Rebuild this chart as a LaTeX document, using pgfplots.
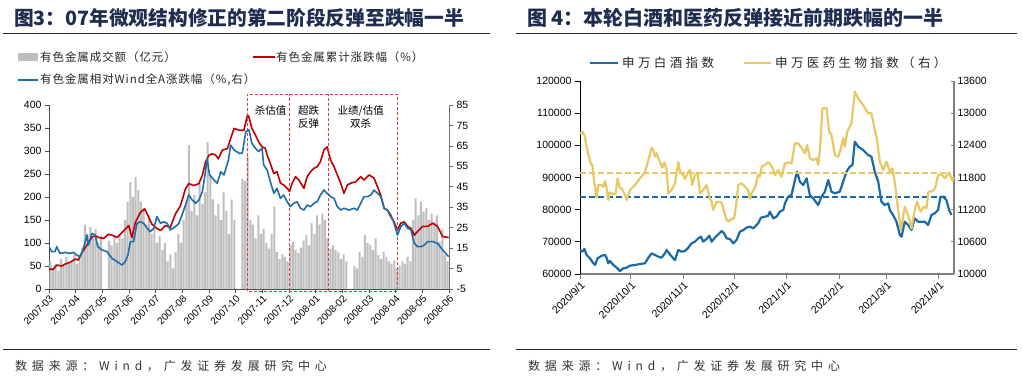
\documentclass[border=0pt]{standalone}
\usepackage{fontspec}
\setmainfont{Liberation Sans}
\newfontfamily\cjk{Noto Sans CJK SC}
\newfontfamily\cjkl[LetterSpace=8]{Noto Sans CJK SC}
\newfontfamily\cjkw[LetterSpace=27]{Noto Sans CJK SC}
\newfontfamily\cjks[LetterSpace=40]{Noto Sans CJK SC}
\usepackage{pgfplots}
\pgfplotsset{compat=1.18}
\usepackage{pgfplotstable}
\definecolor{titleblue}{RGB}{31,45,80}
\definecolor{redl}{RGB}{192,0,0}
\definecolor{bluel}{RGB}{31,110,170}
\definecolor{barg}{RGB}{190,190,190}
\definecolor{yel}{RGB}{232,200,100}
\definecolor{blue2}{RGB}{27,106,165}
\definecolor{boxred}{RGB}{225,60,60}

\pgfplotstableread{
x y
0.05 60
0.15 45
0.25 55
0.35 40
0.45 65
0.55 50
0.65 70
0.75 55
0.85 60
0.95 75
1.05 55
1.15 70
1.25 90
1.35 140
1.45 120
1.55 135
1.65 110
1.75 130
1.85 100
1.95 115
2.05 0
2.15 0
2.25 105
2.35 95
2.45 115
2.55 100
2.65 120
2.75 110
2.85 150
2.95 190
3.05 233
3.15 200
3.25 243
3.35 215
3.45 190
3.55 175
3.65 140
3.75 160
3.85 120
3.95 130
4.05 100
4.15 115
4.25 85
4.35 100
4.45 60
4.55 75
4.65 45
4.75 80
4.85 120
4.95 100
5.05 150
5.15 190
5.25 313
5.35 170
5.45 205
5.55 160
5.65 230
5.75 185
5.85 210
5.95 320
6.05 250
6.15 195
6.25 160
6.35 185
6.45 150
6.55 210
6.65 170
6.75 120
6.85 195
6.95 150
7.05 0
7.15 0
7.25 240
7.35 235
7.45 290
7.55 150
7.65 140
7.75 110
7.85 160
7.95 120
8.05 130
8.15 100
8.25 88
8.35 120
8.45 179
8.55 80
8.65 65
8.75 75
8.85 70
8.95 60
9.05 95
9.15 103
9.25 85
9.35 78
9.45 90
9.55 105
9.65 117
9.75 95
9.85 143
9.95 120
10.05 160
10.15 140
10.25 164
10.35 150
10.45 110
10.55 88
10.65 95
10.75 85
10.85 80
10.95 65
11.05 75
11.15 60
11.25 0
11.35 0
11.45 50
11.55 45
11.65 80
11.75 70
11.85 117
11.95 100
12.05 96
12.15 85
12.25 110
12.35 74
12.45 65
12.55 81
12.65 70
12.75 60
12.85 55
12.95 62
13.05 45
13.15 50
13.25 60
13.35 55
13.45 70
13.55 60
13.65 150
13.75 197
13.85 160
13.95 190
14.05 168
14.15 175
14.25 150
14.35 164
14.45 146
14.55 160
14.65 103
14.75 130
14.85 74
14.95 60
}\bars

\pgfplotstableread{
x y
0 43
0.16 43
0.29 52
0.48 50
0.60 54
0.79 58
0.98 65
1.10 63
1.23 79
1.36 90
1.48 101
1.61 112
1.73 116
1.86 112
2.05 110
2.23 119
2.42 116
2.55 112
2.67 119
2.86 130
2.99 138
3.11 112
3.24 145
3.43 167
3.59 174
3.74 156
3.86 141
3.99 134
4.18 127
4.37 138
4.55 134
4.74 163
4.93 181
5.12 218
5.24 229
5.43 225
5.62 229
5.75 247
5.87 276
6.00 291
6.12 294
6.25 291
6.35 283
6.50 302
6.69 305
6.81 327
6.94 349
7.13 345
7.31 345
7.44 378
7.49 375
7.61 349
7.74 335
7.86 320
7.99 309
8.11 306
8.18 291
8.30 273
8.43 251
8.55 255
8.68 230
8.80 226
8.93 219
9.02 212
9.12 230
9.24 244
9.37 237
9.56 219
9.68 244
9.81 255
9.93 262
10.06 266
10.18 277
10.31 302
10.43 309
10.56 280
10.69 266
10.81 248
10.94 230
11.06 208
11.19 226
11.31 230
11.50 233
11.69 244
11.81 237
12.00 248
12.19 241
12.32 222
12.44 204
12.57 175
12.69 172
12.82 157
12.94 146
13.07 128
13.19 143
13.32 146
13.45 136
13.57 132
13.70 117
13.82 125
14.01 136
14.20 136
14.39 143
14.57 136
14.76 114
14.99 112
}\redt

\pgfplotstableread{
x y
0 15.7
0.10 13.3
0.23 13.3
0.29 15.7
0.41 12.4
0.60 12.9
0.79 12.4
0.92 12.9
1.04 11.6
1.17 10.8
1.25 13.3
1.36 18.2
1.42 21.4
1.48 16.5
1.61 22.2
1.73 21.4
1.83 15.7
1.98 14.1
2.17 13.3
2.36 10.0
2.55 8.4
2.74 6.7
2.86 8.4
2.96 11.6
3.05 18.2
3.17 18.2
3.30 27.1
3.43 27.9
3.55 27.1
3.68 24.7
3.80 23.0
3.93 24.7
4.05 30.4
4.18 27.1
4.30 27.9
4.43 27.1
4.55 23.9
4.74 25.5
4.87 27.1
4.99 31.2
5.12 36.1
5.24 41.0
5.37 38.5
5.50 36.9
5.62 38.5
5.75 42.6
5.85 50.8
5.93 58.9
6.02 50.8
6.19 48.3
6.31 46.7
6.44 52.4
6.56 50.8
6.73 58.1
6.81 65.4
6.94 63.0
7.13 61.4
7.25 61.4
7.38 72.0
7.50 72.8
7.61 66.2
7.74 63.8
7.86 62.2
7.99 63.8
8.05 55.7
8.18 53.2
8.30 47.5
8.43 41.8
8.55 44.2
8.68 39.3
8.80 41.0
8.93 37.7
9.05 35.3
9.18 36.9
9.30 37.7
9.43 34.5
9.56 33.6
9.68 36.1
9.81 35.3
9.93 36.9
10.06 37.7
10.18 41.0
10.31 43.4
10.43 41.8
10.56 40.2
10.69 39.3
10.81 35.3
10.94 33.6
11.06 34.5
11.25 33.6
11.44 34.5
11.56 33.6
11.69 36.9
11.81 40.2
11.94 40.2
12.07 41.0
12.19 43.4
12.32 41.8
12.44 40.2
12.57 34.5
12.69 33.6
12.82 31.2
12.94 27.1
13.07 21.4
13.19 25.5
13.32 27.1
13.45 24.7
13.57 23.9
13.70 17.3
13.82 15.7
13.95 15.7
14.07 16.5
14.20 18.2
14.39 18.2
14.57 17.3
14.76 14.1
14.99 10.8
}\bluet

\pgfplotstableread{
x y
0 67460
1.4 66940
2.6 67770
3.9 65905
5.9 64870
7.9 63315
8.9 62800
10.4 64870
12.8 65700
14.8 65905
15.7 65075
16.7 63315
17.7 64040
19.7 62800
21.7 61970
23.6 60930
25.6 61760
27.6 61970
29.5 62590
32.5 62800
35.4 63110
38.4 63315
40.4 65075
42.3 66420
44.3 65905
46.3 65390
48.2 65075
50.2 66420
51.2 67460
53.1 66110
55.1 64870
56.1 64350
58.1 67460
60.0 66940
62.0 67150
64.0 68185
65.9 69530
67.9 70050
69.9 71085
71.5 71600
72.8 70050
74.8 70880
76.4 71915
77.8 70050
79.7 71290
81.7 72330
83.7 73365
85.2 72640
86.6 71085
88.6 70880
90.6 69530
92.5 70570
94.5 73160
96.5 73675
98.4 74400
100.4 74710
102.4 74195
104.3 75230
105.3 75750
106.9 77510
109.3 77820
111.2 78130
112.2 79370
114.2 77300
116.1 77820
118.1 79370
120.1 79890
121.1 81960
123.0 84035
125.0 84550
127.0 89215
128.3 91805
129.9 88700
131.9 87660
133.9 89735
135.8 84550
137.8 83515
140.7 81445
142.7 84035
144.7 85590
146.7 89215
148.6 85590
150.6 85070
153.5 85590
155.5 88700
157.5 91805
159.4 93360
161.0 93880
162.4 101130
164.4 99575
167.3 98540
170.3 96985
172.2 96470
174.2 91805
176.2 88700
178.1 82480
180.1 81445
182.1 81960
183.1 79890
185.0 78340
187.0 76265
189.0 72120
190.0 71600
191.9 76265
193.9 75230
195.9 73675
197.8 77300
199.8 76265
201.8 76265
203.7 76265
205.7 75230
207.7 78340
209.6 78855
211.6 79890
213.0 84035
214.6 84035
216.5 83000
218.1 79890
219.5 78340
}\baijiu

\pgfplotstableread{
x y
0 12624
1.4 12655
2.6 12593
3.9 12375
5.3 12188
6.5 12045
7.3 12033
7.9 11846
8.9 11598
9.8 11424
10.8 11660
12.4 11660
13.8 11629
14.8 11735
15.7 11598
16.7 11380
17.7 11523
19.7 11486
21.1 11505
22.2 11784
23.6 11598
24.6 11598
26.6 11473
27.6 11380
29.5 11567
32.5 11660
35.4 11784
38.4 11896
40.4 12126
42.3 12356
43.3 12313
44.3 12188
45.3 12251
47.2 12095
48.6 11983
49.8 12083
51.2 11940
52.2 11505
54.1 11567
56.1 11691
58.1 12083
59.1 11909
61.0 11846
62.0 11772
64.0 11909
65.0 11940
66.3 11660
67.9 11846
69.5 11890
70.9 11505
72.8 11567
74.8 11660
76.8 11399
77.8 11349
78.7 11194
80.7 11349
83.7 11330
85.2 11163
86.6 11007
87.6 10976
89.6 11026
91.1 11038
92.5 11349
93.5 11660
95.5 11691
97.4 11629
99.4 11567
100.4 11399
101.4 11505
103.3 11598
105.3 11846
106.3 11815
107.3 12002
109.3 12033
111.2 12083
112.2 12064
113.8 11971
115.2 11846
117.1 11940
119.1 11815
121.1 12064
123.0 12083
125.0 12064
127.0 12437
128.9 12437
130.9 12356
132.9 12251
134.3 12406
135.8 12157
137.8 12126
139.8 12157
140.7 12033
141.7 12282
143.3 13090
145.7 13090
147.2 12655
148.6 12593
150.6 12219
152.6 12188
153.9 12313
155.5 12530
156.5 12375
157.9 12655
160.4 12810
162.4 13401
164.4 13276
167.3 13152
170.3 12997
172.2 12997
174.2 12686
175.2 12561
177.2 12095
179.1 11940
181.1 12095
183.1 11909
184.6 11971
186.0 11722
188.0 11194
189.6 10821
191.9 11256
193.9 11100
195.9 10852
197.8 11194
199.2 11349
201.2 11163
203.1 11256
204.7 11225
205.9 11536
207.9 11536
209.8 11598
211.6 11846
213.6 11859
215.6 11784
218.1 11896
220.1 11735
220.9 11815
}\yiyao

\begin{document}
\begin{tikzpicture}[x=1pt,y=1pt]
\useasboundingbox (0,0) rectangle (1023,379);

% ---------------- Left panel ----------------
\node[anchor=west, inner sep=0pt, text=titleblue, font=\cjk\bfseries\fontsize{19.7}{20}\selectfont] at (14,361) {图3：07年微观结构修正的第二阶段反弹至跌幅一半};
\draw[line width=1pt, black!85] (3,345) -- (490,345);

\fill[barg] (18,318) rectangle (38,326);
\node[anchor=west, inner sep=0pt, font=\cjkl\fontsize{11.5}{12}\selectfont, text=black!85] at (40,322) {有色金属成交额（亿元）};
\draw[redl, line width=1.6pt] (253,322) -- (275,322);
\node[anchor=west, inner sep=0pt, font=\cjkl\fontsize{11.5}{12}\selectfont, text=black!85] at (276,322) {有色金属累计涨跌幅（\%）};
\draw[bluel, line width=1.6pt] (18,299) -- (38,299);
\node[anchor=west, inner sep=0pt, font=\cjkl\fontsize{11.5}{12}\selectfont, text=black!85] at (40,299) {有色金属相对Wind全A涨跌幅（\%,右）};

\begin{axis}[at={(49pt,90pt)}, anchor=south west, scale only axis,
  width=400pt, height=184pt, xmin=0, xmax=15, ymin=0, ymax=400,
  axis y line*=left, axis x line*=bottom, clip=false,
  ytick={0,50,...,400},
  xtick={0,...,15},
  xticklabels={2007-03,2007-04,2007-05,2007-06,2007-07,2007-08,2007-09,2007-10,2007-11,2007-12,2008-01,2008-02,2008-03,2008-04,2008-05,2008-06},
  xticklabel style={rotate=45, anchor=north east, font=\fontsize{10}{10}\selectfont, inner sep=1pt},
  yticklabel style={font=\fontsize{10.5}{11}\selectfont},
  tick align=outside, major tick length=4pt,
  tick style={black!70, line width=0.6pt},
  axis line style={black!70, line width=0.8pt},
  /pgf/number format/fixed,
  /pgf/number format/assume math mode=true]
\addplot[ybar, bar width=2.1pt, bar shift=0pt, fill=barg, draw=none] table[x=x,y=y] {\bars};
\addplot[redl, line width=1.6pt, line join=round] table[x=x,y=y] {\redt};
\draw[draw=boxred, dash pattern=on 3pt off 2pt, line width=0.7pt] (axis cs:7.44,-4.3) rectangle (axis cs:13.08,424);
\draw[draw=boxred, dash pattern=on 3pt off 2pt, line width=0.7pt] (axis cs:9.02,-4.3) -- (axis cs:9.02,424);
\draw[draw=boxred, dash pattern=on 3pt off 2pt, line width=0.7pt] (axis cs:10.49,-4.3) -- (axis cs:10.49,424);
\node[font=\cjk\fontsize{10.5}{12}\selectfont] at (axis cs:8.31,387) {杀估值};
\node[font=\cjk\fontsize{10.5}{12}\selectfont] at (axis cs:9.74,387) {超跌};
\node[font=\cjk\fontsize{10.5}{12}\selectfont] at (axis cs:9.74,359) {反弹};
\node[font=\cjk\fontsize{10.5}{12}\selectfont] at (axis cs:11.69,387) {业绩/估值};
\node[font=\cjk\fontsize{10.5}{12}\selectfont] at (axis cs:11.69,359) {双杀};
\end{axis}

\begin{axis}[at={(49pt,90pt)}, anchor=south west, scale only axis,
  width=400pt, height=184pt, xmin=0, xmax=15, ymin=-5, ymax=85,
  axis y line*=right, axis x line=none,
  ytick={-5,5,...,85},
  yticklabel style={font=\fontsize{10.5}{11}\selectfont},
  tick align=outside, major tick length=4pt,
  tick style={black!60, line width=0.6pt},
  axis line style={black!55, line width=0.8pt},
  /pgf/number format/fixed,
  /pgf/number format/assume math mode=true]
\addplot[bluel, line width=1.6pt, line join=round] table[x=x,y=y] {\bluet};
\end{axis}

\node[anchor=west, inner sep=0pt, font=\cjks\fontsize{12}{12}\selectfont, text=black!80] at (15,13) {数据来源：Wind，广发证券发展研究中心};
\draw[line width=0.8pt, black!85] (3,30) -- (490,30);

% ---------------- Right panel ----------------
\node[anchor=west, inner sep=0pt, text=titleblue, font=\cjk\bfseries\fontsize{20}{20}\selectfont] at (527,361) {图 4：本轮白酒和医药反弹接近前期跌幅的一半};
\draw[line width=1pt, black!85] (516,345) -- (1017,345);

\draw[blue2, line width=2.2pt] (590,316) -- (618,316);
\node[anchor=west, inner sep=0pt, font=\cjkw\fontsize{12.5}{12}\selectfont, text=black!85] at (622,316) {申万白酒指数};
\draw[yel, line width=2.2pt] (744,316) -- (771,316);
\node[anchor=west, inner sep=0pt, font=\cjkw\fontsize{12.5}{12}\selectfont, text=black!85] at (775,316) {申万医药生物指数（右）};

\begin{axis}[at={(580pt,105pt)}, anchor=south west, scale only axis,
  width=374pt, height=193pt, xmin=0, xmax=221, ymin=60000, ymax=120000,
  axis y line*=left, axis x line*=bottom,
  scaled y ticks=false,
  ytick={60000,70000,...,120000},
  yticklabels={60000,70000,80000,90000,100000,110000,120000},
  xtick={0,30,61,91,122,153,181,212},
  xticklabels={2020/9/1,2020/10/1,2020/11/1,2020/12/1,2021/1/1,2021/2/1,2021/3/1,2021/4/1},
  xticklabel style={rotate=45, anchor=north east, font=\fontsize{10.5}{11}\selectfont, inner sep=1pt},
  yticklabel style={font=\fontsize{10.5}{11}\selectfont},
  tick align=outside, major tick length=5pt,
  x axis line style={black!50, line width=1.8pt},
  y axis line style={black, line width=0.9pt},
  xtick style={black!50, line width=0.8pt},
  ytick style={black, line width=0.8pt}]
\addplot[draw=blue2, line width=1.8pt, dash pattern=on 6pt off 3pt] coordinates {(0,83850) (217,83850)};
\addplot[draw=blue2, line width=2.2pt, line join=round] table[x=x,y=y] {\baijiu};
\end{axis}

\begin{axis}[at={(580pt,105pt)}, anchor=south west, scale only axis,
  width=374pt, height=193pt, xmin=0, xmax=221, ymin=10000, ymax=13600,
  axis y line*=right, axis x line=none,
  scaled y ticks=false,
  ytick={10000,10600,...,13600},
  yticklabels={10000,10600,11200,11800,12400,13000,13600},
  yticklabel style={font=\fontsize{10.5}{11}\selectfont},
  tick align=inside, major tick length=3pt,
  ytick style={black!50, line width=0.8pt},
  y axis line style={black!50, line width=1.5pt}]
\addplot[draw=yel, line width=1.5pt, dash pattern=on 6pt off 3pt] coordinates {(0,11880) (218.5,11880)};
\addplot[draw=yel, line width=2.2pt, line join=round] table[x=x,y=y] {\yiyao};
\end{axis}

\node[anchor=west, inner sep=0pt, font=\cjks\fontsize{12}{12}\selectfont, text=black!80] at (528,13) {数据来源：Wind，广发证券发展研究中心};
\draw[line width=0.8pt, black!85] (516,30) -- (1017,30);
\end{tikzpicture}
\end{document}
